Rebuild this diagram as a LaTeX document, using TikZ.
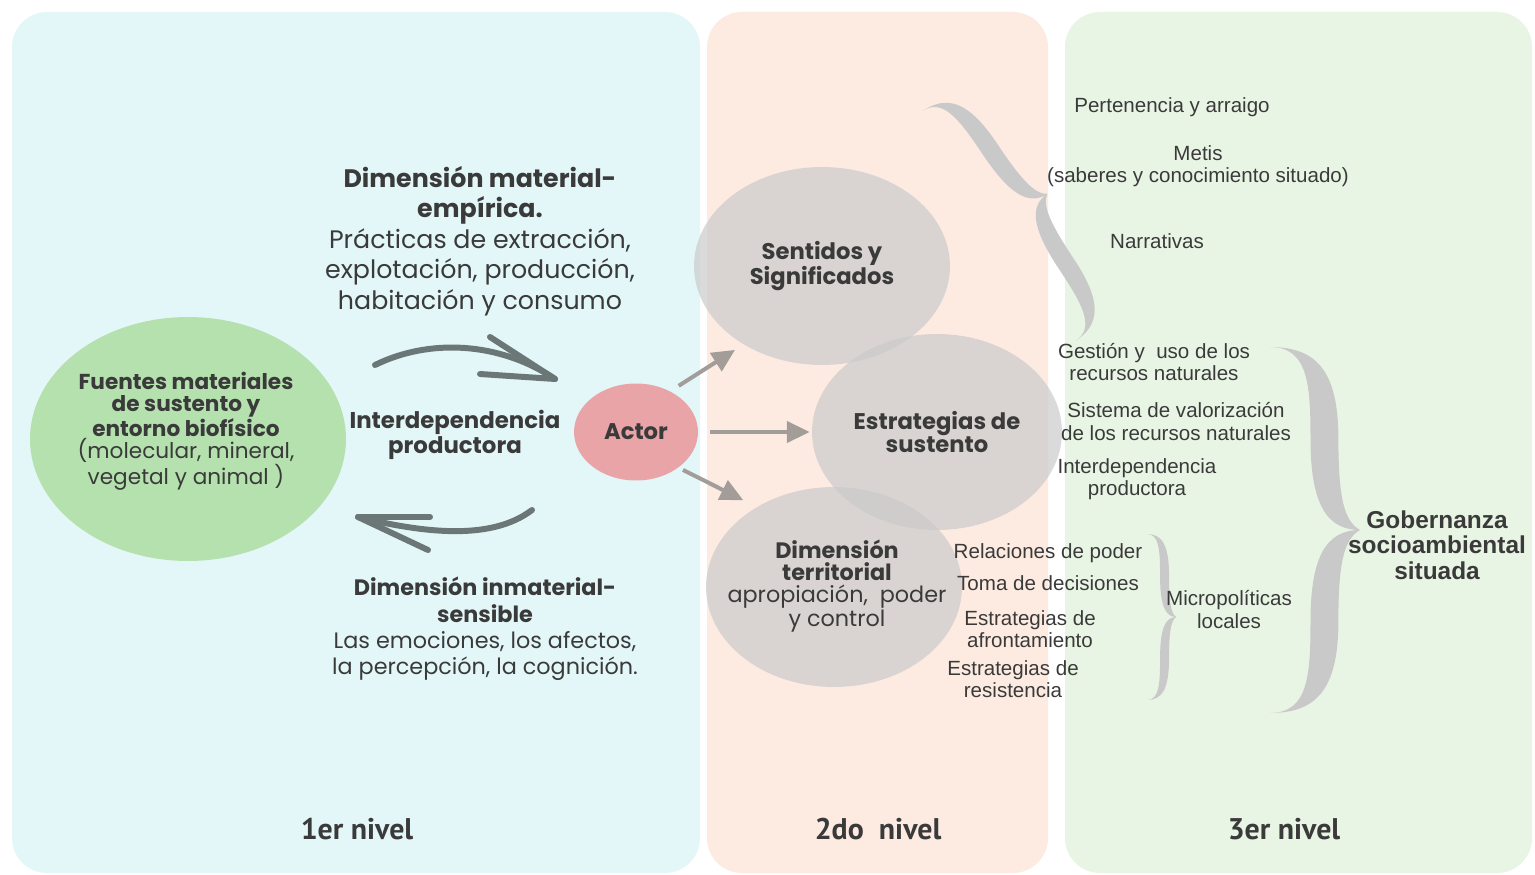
\documentclass[tikz,border=0pt]{standalone}
\usepackage{fontspec}
\setmainfont{Poppins}
\newfontfamily\arialf{Liberation Sans}
\newfontfamily\levelf{PT Sans}
\usetikzlibrary{shapes.geometric,arrows.meta}

\definecolor{panA}{HTML}{E3F7F8}
\definecolor{panB}{HTML}{FDEBE2}
\definecolor{panC}{HTML}{E9F5E4}
\definecolor{leaf}{HTML}{B4E1AE}
\definecolor{actorc}{HTML}{E9A4A7}
\definecolor{circg}{HTML}{CBCBCB}
\definecolor{arrowg}{HTML}{A39D9A}
\definecolor{curvyc}{HTML}{6B7676}
\definecolor{braceg}{HTML}{C9C9C9}
\definecolor{txt}{HTML}{3A3A3A}

% unit brace: ends at (0,1) and (0,-1), tip at (1,0)
\newcommand\bracepath{%
  (0,1) .. controls (0.42,1) and (0.45,0.8) .. (0.45,0.5)
        .. controls (0.45,0.15) and (0.62,0) .. (1,0)
        .. controls (0.82,0.05) and (0.76,0.18) .. (0.76,0.5)
        .. controls (0.76,0.88) and (0.5,1) .. (0,1) -- cycle
  (0,-1) .. controls (0.42,-1) and (0.45,-0.8) .. (0.45,-0.5)
        .. controls (0.45,-0.15) and (0.62,0) .. (1,0)
        .. controls (0.82,-0.05) and (0.76,-0.18) .. (0.76,-0.5)
        .. controls (0.76,-0.88) and (0.5,-1) .. (0,-1) -- cycle}

\tikzset{
  panel/.style={rounded corners=0.7cm},
  bubble/.style={ellipse, inner sep=0pt, fill=circg, fill opacity=0.7,
    text opacity=1, text=txt, align=center,
    font=\bfseries\fontsize{12.9}{12.5}\selectfont},
  flow/.style={arrowg, line width=2.3pt,
    -{Triangle[length=13pt,width=12pt]}},
  curvy/.style={curvyc, line width=3.4pt, line cap=round, line join=round},
  sidetext/.style={text=txt, align=center, inner sep=0pt,
    font=\arialf\fontsize{11.7}{12.6}\selectfont},
  bigtext/.style={text=txt, align=center, inner sep=0pt},
  level/.style={text=txt, inner sep=0pt,
    font=\levelf\bfseries\fontsize{17}{20}\selectfont},
}

\begin{document}
\begin{tikzpicture}[x=0.02cm,y=-0.02cm]
\useasboundingbox (0,0) rectangle (1535,875);
\fill[white] (0,0) rectangle (1535,875);

% three level panels
\fill[panA, panel] (12,12) rectangle (700,873);
\fill[panB, panel] (707,12) rectangle (1048,873);
\fill[panC, panel] (1065,12) rectangle (1532,873);

% first level
\node[ellipse, fill=leaf, minimum width=6.32cm, minimum height=4.88cm]
  (fuentes) at (188,439) {};
\node[bigtext, font=\fontsize{12.3}{12.3}\selectfont] (fuentestxt) at (186,431)
  {\textbf{Fuentes materiales}\\\textbf{de sustento y}\\\textbf{entorno biofísico}\\
   (molecular, mineral,\\vegetal y animal )};

\node[bigtext, font=\fontsize{14.4}{17.3}\selectfont] (material) at (480,241)
  {\textbf{Dimensión material-}\\\textbf{empírica.}\\Prácticas de extracción,\\
   explotación, producción,\\habitación y consumo};

\node[bigtext, font=\fontsize{12.7}{15}\selectfont] (inmaterial) at (485,629)
  {\textbf{Dimensión inmaterial-}\\\textbf{sensible}\\Las emociones, los afectos,\\
   la percepción, la cognición.};

\node[bigtext, font=\bfseries\fontsize{13}{12.2}\selectfont] (interdep) at (455,435)
  {Interdependencia\\productora};

% hand drawn cycle arrows
\coordinate (ctopS) at (375,365);
\coordinate (ctopE) at (555,379);
\coordinate (cbotS) at (532,510);
\coordinate (cbotE) at (358,517);
\draw[curvy] (ctopS) .. controls (430,338) and (500,342) .. (ctopE);
\draw[curvy] (490,337) -- (ctopE) -- (480,374);
\draw[curvy] (cbotS) .. controls (490,542) and (420,532) .. (cbotE);
\draw[curvy] (430,517) -- (cbotE) -- (428,550);

\node[ellipse, fill=actorc, inner sep=0pt, minimum width=2.48cm, minimum height=1.94cm,
  text=txt, font=\bfseries\fontsize{12.9}{13}\selectfont] (actor) at (636,432) {Actor};

% second level
\node[bubble, minimum width=5.12cm, minimum height=3.96cm] (sent) at (822,266)
  {Sentidos y\\Significados};
\node[bubble, minimum width=5.12cm, minimum height=4.0cm] (terr) at (834,587) {};
\node[bubble, minimum width=5.0cm, minimum height=3.92cm] (estr) at (937,432)
  {Estrategias de\\sustento};
\node[bigtext, font=\fontsize{12.7}{12.6}\selectfont] (terrtxt) at (837,586)
  {\textbf{Dimensión}\\\textbf{territorial}\\apropiación,~ poder\\y control};

\draw[flow, shorten <=0.2cm, shorten >=0.2cm] (actor.50) -- (sent.225);
\draw[flow, shorten <=0.24cm, shorten >=0.04cm] (actor) -- (estr);
\draw[flow, shorten <=0.1cm, shorten >=0.3cm] (actor.-40) -- (terr.134);

% braces
\begin{scope}[shift={(999,226)}, x={(0.966cm,0.642cm)}, y={(1.53cm,-2.30cm)}]
  \fill[braceg] \bracepath;
\end{scope}
\begin{scope}[shift={(1270,530)}, x={(1.8cm,0cm)}, y={(0cm,3.66cm)}]
  \fill[braceg] \bracepath;
\end{scope}
\begin{scope}[shift={(1147,617)}, x={(0.58cm,0cm)}, y={(0cm,1.66cm)}]
  \fill[braceg] \bracepath;
\end{scope}

% third level texts
\node[sidetext] (perten) at (1172,107) {Pertenencia y arraigo};
\node[sidetext] (metis) at (1198,166.5) {Metis\\(saberes y conocimiento situado)};
\node[sidetext] (narr) at (1157,241) {Narrativas};
\node[sidetext] (gestion) at (1154,362) {Gestión y~ uso de los\\recursos naturales};
\node[sidetext] (valor) at (1176,421.5) {Sistema de valorización\\de los recursos naturales};
\node[sidetext] (interp) at (1137,479) {Interdependencia\\productora};
\node[sidetext] (relac) at (1048,553) {Relaciones de poder};
\node[sidetext] (toma) at (1048,583) {Toma de decisiones};
\node[sidetext] (afront) at (1030,629.5) {Estrategias de\\afrontamiento};
\node[sidetext] (resist) at (1013,679.5) {Estrategias de\\resistencia};
\node[sidetext] (micro) at (1229,609.5) {Micropolíticas\\locales};
\node[sidetext, font=\arialf\bfseries\fontsize{13.9}{14.6}\selectfont] (gober) at (1437,545)
  {Gobernanza\\socioambiental\\situada};

% level captions
\node[level] (niv1) at (357,829) {1er nivel};
\node[level] (niv2) at (878,829) {2do~ nivel};
\node[level] (niv3) at (1284,829) {3er nivel};
\end{tikzpicture}
\end{document}
